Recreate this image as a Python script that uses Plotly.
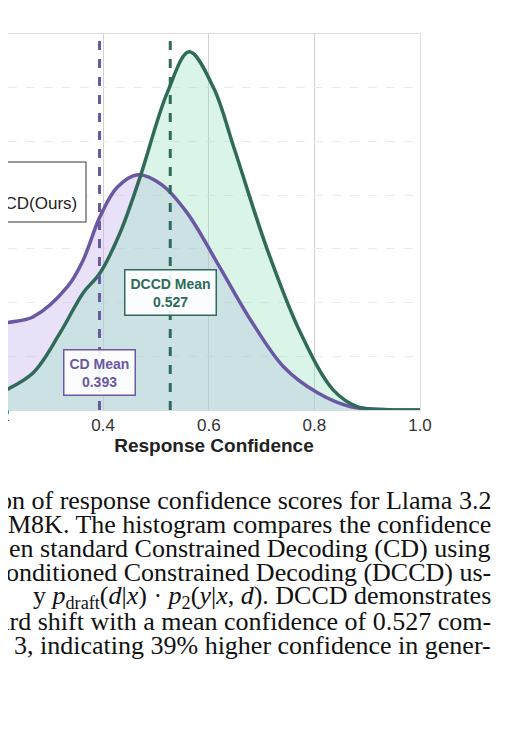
import plotly.graph_objects as go

cd_x = [0.15, 0.205, 0.267, 0.332, 0.362, 0.394, 0.427, 0.466, 0.51, 0.559, 0.616, 0.679, 0.742, 0.806, 0.869, 0.93, 1.0]
cd_y = [1.1, 1.58, 1.73, 2.29, 2.79, 3.6, 4.15, 4.38, 4.2, 3.67, 2.74, 1.68, 0.80, 0.32, 0.06, 0.01, 0.0]
dccd_x = [0.15, 0.205, 0.267, 0.318, 0.362, 0.394, 0.432, 0.470, 0.521, 0.563, 0.609, 0.647, 0.711, 0.774, 0.836, 0.882, 0.94, 1.0]
dccd_y = [0.1, 0.32, 0.69, 1.43, 2.18, 2.55, 3.3, 4.34, 5.9, 6.67, 6.0, 4.9, 2.98, 1.43, 0.37, 0.06, 0.005, 0.0]
cd_mean = 0.393
dccd_mean = 0.527
x_ticks = [0.4, 0.6, 0.8, 1.0]
caption_lines = [
    "on of response confidence scores for Llama 3.2",
    "M8K. The histogram compares the confidence",
    "en standard Constrained Decoding (CD) using",
    "onditioned Constrained Decoding (DCCD) us-",
    "y <i>p</i><sub>draft</sub>(<i>d</i>|<i>x</i>) · <i>p</i><sub>2</sub>(<i>y</i>|<i>x</i>, <i>d</i>). DCCD demonstrates",
    "ard shift with a mean confidence of 0.527 com-",
    "3, indicating 39% higher confidence in gener-",
]

PURPLE = "#6a58a3"
GREEN = "#2f6b58"
W, H = 522, 749
OFF = 8  # page body margin
L, R, T, B = 0, 110, 26, 347
X0 = 0.4 + (OFF - 103) / 527


def px(sx):
    return (sx - OFF) / 412


def py(sy):
    return (410 - sy) / 376


fig = go.Figure()
fig.add_trace(go.Scatter(x=cd_x, y=cd_y, mode="none", line=dict(shape="spline"),
                         fill="tozeroy", fillcolor="rgba(200,180,235,0.4)", showlegend=False))
fig.add_trace(go.Scatter(x=dccd_x, y=dccd_y, mode="none", line=dict(shape="spline"),
                         fill="tozeroy", fillcolor="rgba(150,225,190,0.35)", showlegend=False))
fig.add_trace(go.Scatter(x=cd_x, y=cd_y, mode="lines", line=dict(color=PURPLE, width=3.5, shape="spline"),
                         showlegend=False))
fig.add_trace(go.Scatter(x=dccd_x, y=dccd_y, mode="lines", line=dict(color=GREEN, width=3.5, shape="spline"),
                         showlegend=False))

fig.add_vline(x=cd_mean, line=dict(color=PURPLE, width=3, dash="dash"))
fig.add_vline(x=dccd_mean, line=dict(color=GREEN, width=3, dash="dash"))

fig.add_annotation(x=cd_mean, y=0.7, text="<b>CD Mean<br>0.393</b>", showarrow=False,
                   font=dict(family="Liberation Sans", size=14, color=PURPLE),
                   bgcolor="rgba(255,255,255,0.9)", bordercolor=PURPLE, borderwidth=1.5, borderpad=5)
fig.add_annotation(x=dccd_mean, y=2.18, text="<b>DCCD Mean<br>0.527</b>", showarrow=False,
                   font=dict(family="Liberation Sans", size=14, color=GREEN),
                   bgcolor="rgba(255,255,255,0.9)", bordercolor=GREEN, borderwidth=1.5, borderpad=5)

# partially visible legend box
fig.add_shape(type="rect", xref="paper", yref="paper", x0=-0.05, x1=px(86),
              y0=py(222), y1=py(162),
              line=dict(color="#333", width=1), fillcolor="white", layer="above")
fig.add_annotation(xref="paper", yref="paper", x=px(79), y=py(203), xanchor="right",
                   text="DCCD(Ours)", showarrow=False, font=dict(family="Liberation Sans", size=17, color="#222"))

# partial tick label 0.2
fig.add_annotation(xref="paper", yref="paper", x=px(-2), y=py(427), xanchor="center",
                   text="0.2", showarrow=False, font=dict(family="Liberation Sans", size=17, color="#333"))

for i, line in enumerate(caption_lines):
    fig.add_annotation(xref="paper", yref="paper", x=px(493), y=py(500 + i * 24.3), xanchor="right",
                       yanchor="middle", text=line, showarrow=False,
                       font=dict(family="Liberation Serif", size=26, color="#111"))

fig.update_xaxes(range=[X0, 1.0], tickvals=x_ticks, ticktext=["0.4", "0.6", "0.8", "1.0"],
                 showgrid=True, gridcolor="#d0d0d0", gridwidth=1, zeroline=False,
                 showline=True, linecolor="#dddddd", mirror=True, ticks="",
                 tickfont=dict(family="Liberation Sans", size=17, color="#333"),
                 title=dict(text="<b>Response Confidence</b>", standoff=4,
                            font=dict(family="Liberation Sans", size=19, color="#222")))
fig.update_yaxes(range=[0, 7], dtick=1, showticklabels=False, showgrid=True, gridcolor="#ebebeb",
                 griddash="dash", zeroline=False, showline=True, linecolor="#dddddd", mirror=True)
fig.update_layout(width=W, height=H, margin=dict(l=L, r=R, t=T, b=B),
                  plot_bgcolor="white", paper_bgcolor="white", showlegend=False)
fig.write_html("out.html")
